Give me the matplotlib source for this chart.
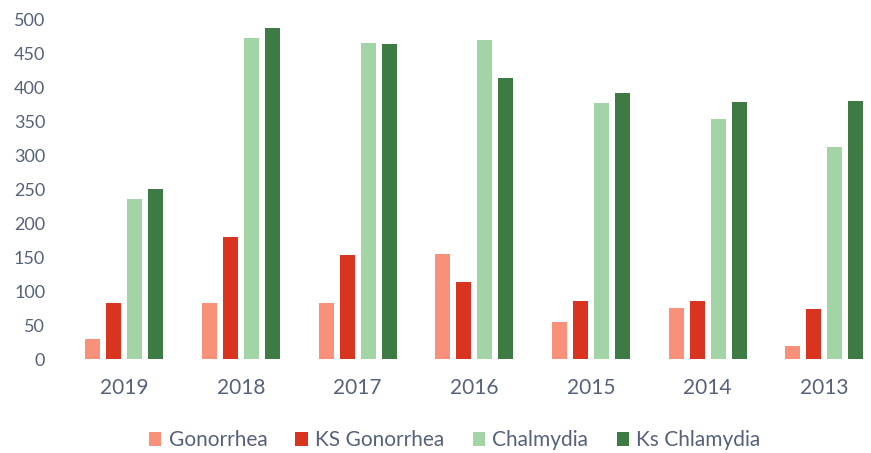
import matplotlib
matplotlib.use("Agg")
import matplotlib.pyplot as plt
import numpy as np

years = ["2019", "2018", "2017", "2016", "2015", "2014", "2013"]
gonorrhea = [30, 82, 82, 155, 55, 75, 19]
ks_gonorrhea = [82, 180, 154, 114, 85, 85, 74]
chlamydia = [236, 474, 466, 470, 378, 354, 313]
ks_chlamydia = [251, 488, 464, 415, 393, 379, 380]

series_names = ["Gonorrhea", "KS Gonorrhea", "Chalmydia", "Ks Chlamydia"]
series_vals = [gonorrhea, ks_gonorrhea, chlamydia, ks_chlamydia]
colors = ["#f9917a", "#d8341f", "#a3d4a5", "#3d7a44"]

plt.rcParams['font.family'] = ['Lato', 'DejaVu Sans']
text_col = "#56627a"

fig = plt.figure(figsize=(8.71, 4.53), dpi=100)
ax = fig.add_axes([66/871, 94/453, (871-66)/871, 339/453])

x = np.arange(len(years))
pitch = 0.18
width = 0.13
for i, (name, vals, c) in enumerate(zip(series_names, series_vals, colors)):
    ax.bar(x + (i - 1.5) * pitch, vals, width=width, color=c, label=name)

ax.set_xlim(-0.5, 6.4)
ax.set_ylim(0, 500)
ax.set_yticks(range(0, 501, 50))
ax.set_xticks(x)
ax.set_xticklabels(years)
for s in ax.spines.values():
    s.set_visible(False)
ax.tick_params(length=0, colors=text_col)
ax.tick_params(axis='y', labelsize=13, pad=15)
ax.tick_params(axis='x', labelsize=15, pad=14)

fig.legend(loc='center', bbox_to_anchor=(0.522, 0.028), ncol=4, frameon=False,
           fontsize=15, labelcolor=text_col, handlelength=0.6, handleheight=0.6,
           handletextpad=0.35, columnspacing=1.35)

fig.savefig("out.png", dpi=100)
